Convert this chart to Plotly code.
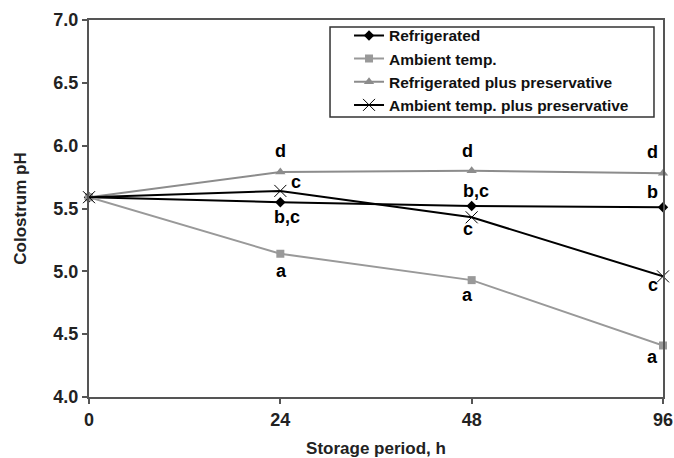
import plotly.graph_objects as go

periods = ["0", "24", "48", "96"]
series_names = ["Refrigerated", "Ambient temp.", "Refrigerated plus preservative",
                "Ambient temp. plus preservative"]
refrigerated = [5.59, 5.55, 5.52, 5.51]
ambient = [5.59, 5.14, 4.93, 4.41]
refrig_pres = [5.59, 5.79, 5.80, 5.78]
ambient_pres = [5.59, 5.64, 5.43, 4.96]

# significance letters per series at 24, 48, 96 h
letters_refrigerated = ["b,c", "b,c", "b"]
letters_ambient = ["a", "a", "a"]
letters_refrig_pres = ["d", "d", "d"]
letters_ambient_pres = ["c", "c", "c"]

FONT = "Liberation Sans, Arial, sans-serif"

fig = go.Figure()
styles = [
    (refrigerated, dict(color="#000000", width=2), dict(symbol="diamond", size=8, color="#000000")),
    (ambient, dict(color="#999999", width=2), dict(symbol="square", size=8, color="#999999")),
    (refrig_pres, dict(color="#8c8c8c", width=2), dict(symbol="triangle-up", size=9, color="#8c8c8c")),
    (ambient_pres, dict(color="#000000", width=2),
     dict(symbol="x-thin-open", size=12, color="#000000", line=dict(width=1, color="#000000"))),
]
for name, (vals, ln, mk) in zip(series_names, styles):
    fig.add_trace(go.Scatter(x=list(range(len(periods))), y=vals, mode="lines+markers", name=name,
                             line=ln, marker=mk, cliponaxis=False))

# label offsets (xshift, yshift) per point index 1..3
offs = {
    "refrigerated": [(7, -15), (4, 15), (-11, 15)],
    "ambient": [(1, -17), (-4, -15), (-11, -12)],
    "refrig_pres": [(0, 21), (-4, 20), (-11, 21)],
    "ambient_pres": [(16, 9), (-4, -12), (-10, -9)],
}
data_map = {
    "refrigerated": (refrigerated, letters_refrigerated),
    "ambient": (ambient, letters_ambient),
    "refrig_pres": (refrig_pres, letters_refrig_pres),
    "ambient_pres": (ambient_pres, letters_ambient_pres),
}
for key, (vals, lets) in data_map.items():
    for i, lab in enumerate(lets):
        xs, ys = offs[key][i]
        fig.add_annotation(x=i + 1, y=vals[i + 1], xref="x", yref="y", text=lab, showarrow=False,
                           xshift=xs, yshift=ys,
                           font=dict(family=FONT, size=18, color="#000000", weight="bold"))

# legend frame
fig.add_shape(type="rect", xref="paper", yref="paper",
              x0=0.4199, x1=0.9843, y0=0.7427, y1=0.9814,
              line=dict(color="#333333", width=1.5), fillcolor="white", layer="below")

axis_common = dict(showline=True, linecolor="#555555", linewidth=2, mirror=True,
                   ticks="outside", ticklen=5, tickwidth=1.5, tickcolor="#555555",
                   showgrid=False, zeroline=False, automargin=False,
                   tickfont=dict(family=FONT, size=18, color="#222222", weight="bold"))

fig.update_layout(
    width=674, height=458,
    margin=dict(l=89, r=11, t=20, b=61),
    paper_bgcolor="white", plot_bgcolor="white",
    showlegend=True,
    legend=dict(x=0.453, y=1.003, xanchor="left", yanchor="top",
                bgcolor="rgba(0,0,0,0)", borderwidth=0,
                font=dict(family=FONT, size=15.5, color="#111111", weight="bold"),
                tracegroupgap=0, itemwidth=30),
    xaxis=dict(range=[0, 3], tickmode="array", tickvals=list(range(len(periods))),
               ticktext=periods,
               title=dict(text="Storage period, h", standoff=16,
                          font=dict(family=FONT, size=17, color="#222222", weight="bold")),
               **axis_common),
    yaxis=dict(range=[4.0, 7.0], dtick=0.5, tickformat=".1f",
               title=dict(text="Colostrum pH", standoff=22,
                          font=dict(family=FONT, size=17, color="#222222", weight="bold")),
               **axis_common),
)

fig.write_html("out.html", config={"displayModeBar": False},
               post_script="document.body.style.margin='0';document.body.style.overflow='hidden';")
